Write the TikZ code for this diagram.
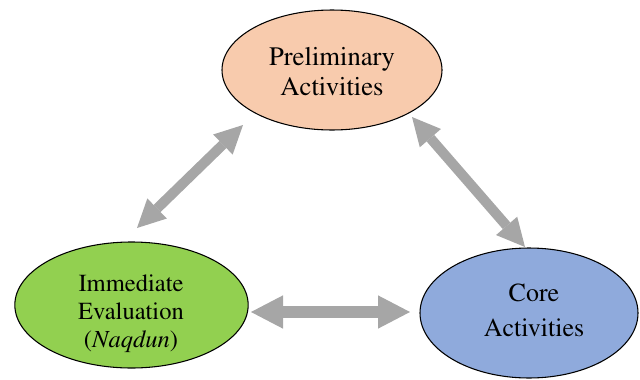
\documentclass[tikz,border=0pt]{standalone}
\usepackage[T1]{fontenc}
\usepackage{times}
\usetikzlibrary{shapes.geometric,arrows.meta}
\definecolor{peach}{HTML}{F8CBAD}
\definecolor{lgreen}{HTML}{92D050}
\definecolor{lblue}{HTML}{8FAADC}
\definecolor{agray}{HTML}{A6A6A6}
\begin{document}
\begin{tikzpicture}[x=0.75pt,y=-0.75pt,
  oval/.style={ellipse,draw=black,line width=0.8pt,inner sep=0pt},
  lbl/.style={align=center,inner sep=0pt},
  bigarrow/.style={draw=agray,line width=9.5pt,
    {Triangle[width=25pt,length=24pt,line width=0pt]}-{Triangle[width=25pt,length=24pt,line width=0pt]}},
  diagarrow/.style={draw=agray,line width=7.5pt,
    {Triangle[width=21pt,length=21pt,line width=0pt]}-{Triangle[width=21pt,length=21pt,line width=0pt]}}]
\useasboundingbox (0,0) rectangle (640,379);
% ellipses
\node[oval,fill=peach,minimum width=165pt,minimum height=90pt] (pre) at (332,70) {};
\node[oval,fill=lgreen,minimum width=175pt,minimum height=94.5pt] (eval) at (131.5,305) {};
\node[oval,fill=lblue,minimum width=163.5pt,minimum height=97.5pt] (core) at (529,313) {};
% texts
\node[lbl,font=\fontsize{20}{22.5}\selectfont] (pretext) at (332,72) {Preliminary\\Activities};
\node[lbl,font=\fontsize{18.4}{21}\selectfont] (evaltext) at (131,314) {Immediate\\Evaluation\\(\textit{Naqdun})};
\node[lbl,font=\fontsize{19.5}{26}\selectfont] (coretext) at (534,310) {Core\\Activities};
% arrow end points
\coordinate (a1) at (137,228);
\coordinate (a2) at (243,125);
\coordinate (b1) at (412,117);
\coordinate (b2) at (525,247);
\coordinate (c1) at (251,312);
\coordinate (c2) at (410,312);
\draw[diagarrow] (a1) -- (a2);
\draw[diagarrow] (b1) -- (b2);
\draw[bigarrow] (c1) -- (c2);
\end{tikzpicture}
\end{document}
